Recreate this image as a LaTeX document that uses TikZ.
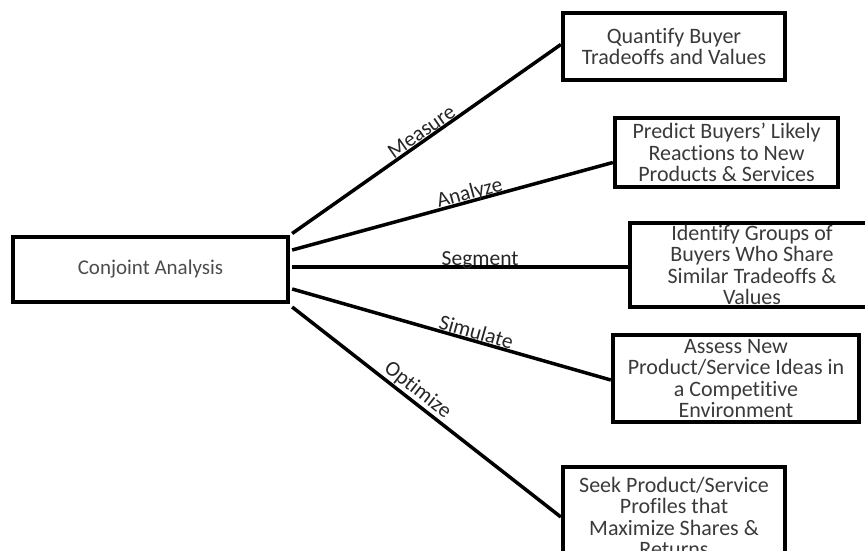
\documentclass[tikz,border=0pt]{standalone}
\usepackage{fontspec}
\setmainfont{Carlito}[Ligatures={NoCommon}]
\usetikzlibrary{positioning,calc}
\definecolor{boxtext}{RGB}{58,58,58}

\begin{document}
\begin{tikzpicture}[x=1pt,y=1pt,
    outcome/.style={rectangle, draw, line width=4.3pt, align=center, inner sep=0pt, text=boxtext, font=\fontsize{22}{21.5}\selectfont},
    branch/.style={line width=3.5pt},
    verb/.style={sloped, anchor=base, yshift=2pt, inner sep=0pt, text=black!85, font=\fontsize{21.5}{21}\selectfont}]
    \useasboundingbox (0,0) rectangle (865,550);
    \clip (0,0) rectangle (865,550);

    \node[outcome, minimum width=275pt, minimum height=65pt, text=black!70, font=\fontsize{21}{21}\selectfont] (conjoint) at (150.5,280.5) {Conjoint Analysis};

    \node[outcome, minimum width=222pt, minimum height=67pt] (quantify) at (674,503.5) {Quantify Buyer\\Tradeoffs and Values};
    \node[outcome, minimum width=223pt, minimum height=69pt] (predict) at (726.5,397.5) {Predict Buyers’ Likely\\Reactions to New\\Products \& Services};
    \node[outcome, minimum width=244pt, minimum height=84pt] (identify) at (752,285) {Identify Groups of\\Buyers Who Share\\Similar Tradeoffs \&\\Values};
    \node[outcome, minimum width=246pt, minimum height=87pt] (assess) at (736,171.5) {Assess New\\Product/Service Ideas in\\a Competitive\\Environment};
    \node[outcome, minimum width=222pt, minimum height=100pt] (seek) at (674,33) {Seek Product/Service\\Profiles that\\Maximize Shares \&\\Returns};

    % start points just right of the central box
    \coordinate (s1) at ($(conjoint.east)+(2,36)$);
    \coordinate (s2) at ($(conjoint.east)+(2,19.5)$);
    \coordinate (s3) at ($(conjoint.east)+(2,2.5)$);
    \coordinate (s4) at ($(conjoint.east)+(2,-19.5)$);
    \coordinate (s5) at ($(conjoint.east)+(2,-37.5)$);

    \draw[branch] (s1) -- node[verb, pos=0.5] {Measure} ([yshift=2pt]quantify.west);
    \draw[branch] (s2) -- node[verb, pos=0.56] {Analyze} ([yshift=-10pt]predict.west);
    \draw[branch] (s3) -- node[verb, pos=0.56] {Segment} ([yshift=-2pt]identify.west);
    \draw[branch] (s4) -- node[verb, pos=0.57] {Simulate} ([yshift=-1.5pt]assess.west);
    \draw[branch] (s5) -- node[verb, pos=0.44, yshift=4pt] {Optimize} (seek.west);
\end{tikzpicture}
\end{document}
